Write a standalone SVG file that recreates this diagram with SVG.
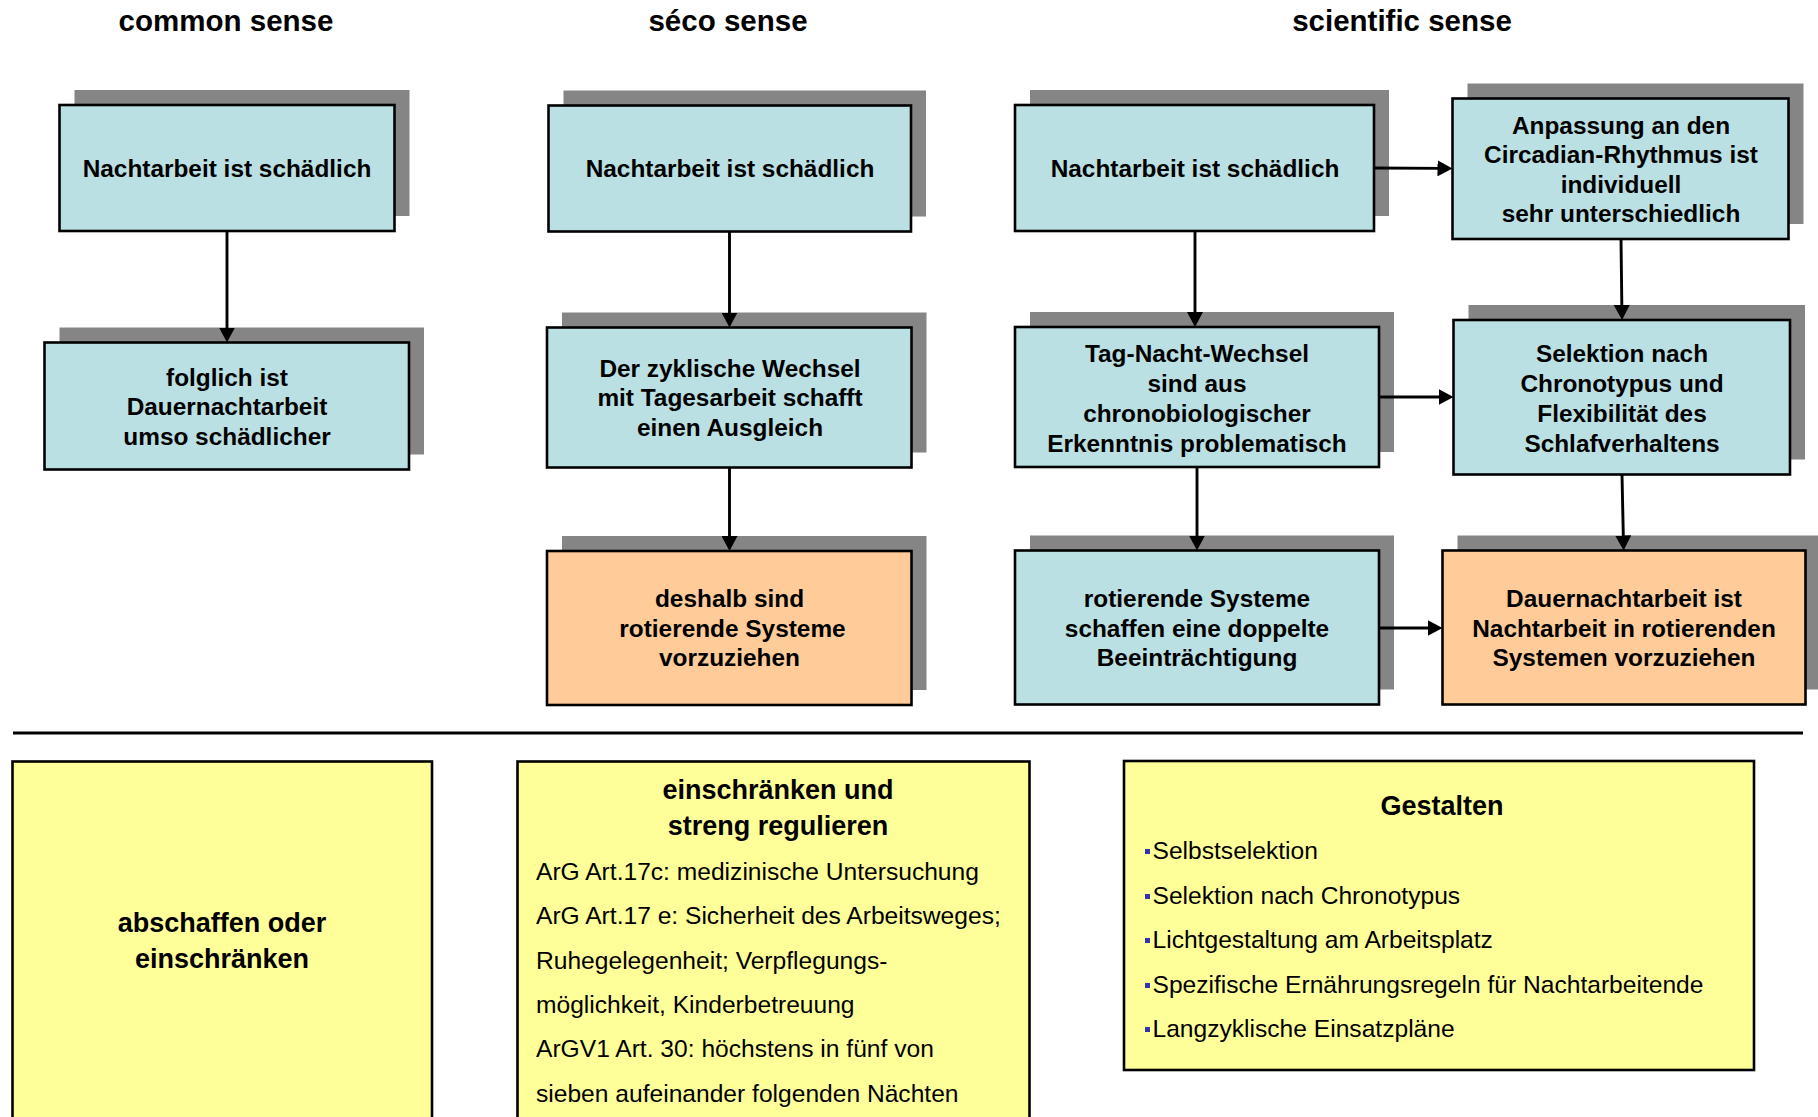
<svg xmlns="http://www.w3.org/2000/svg" width="1818" height="1117" viewBox="0 0 1818 1117">
<defs>
<marker id="arr" viewBox="0 0 15 16" refX="5" refY="8" markerWidth="15" markerHeight="16" markerUnits="userSpaceOnUse" orient="auto">
<path d="M0,0 L15,8 L0,16 z" fill="#000"/>
</marker>
<style>
.sh{fill:#858585}
.bx{stroke:#000;stroke-width:2.6}
.blue{fill:#BBE0E3}
.orange{fill:#FFCC99}
.yellow{fill:#FFFF99}
text{font-family:"Liberation Sans",Arial,sans-serif;fill:#000}
.t{font-weight:bold;font-size:24.4px;text-anchor:middle}
.ttl{font-weight:bold;font-size:29.5px;text-anchor:middle}
.h{font-weight:bold;font-size:27px;text-anchor:middle}
.b{font-size:24.6px}
.con line{stroke:#000;stroke-width:2.9;marker-end:url(#arr)}
.bul{fill:#3333AA}
</style>
</defs>
<rect width="1818" height="1117" fill="#fff"/>

<g id="titles">
<text class="ttl" x="226" y="30.5">common sense</text>
<text class="ttl" x="728" y="30.5">séco sense</text>
<text class="ttl" x="1402" y="30.5">scientific sense</text>
</g>

<g id="A1">
<rect class="sh" x="74.5" y="90" width="335" height="126"/>
<rect class="bx blue" x="59.5" y="105" width="335" height="126"/>
<text class="t" x="227" y="177">Nachtarbeit ist schädlich</text>
</g>
<g id="A2">
<rect class="sh" x="59.5" y="327.5" width="364.5" height="127"/>
<rect class="bx blue" x="44.5" y="342.5" width="364.5" height="127"/>
<text class="t" x="227" y="386">folglich ist</text>
<text class="t" x="227" y="415">Dauernachtarbeit</text>
<text class="t" x="227" y="445">umso schädlicher</text>
</g>

<g id="B1">
<rect class="sh" x="563.5" y="90.5" width="362.5" height="126"/>
<rect class="bx blue" x="548.5" y="105.5" width="362.5" height="126"/>
<text class="t" x="730" y="177">Nachtarbeit ist schädlich</text>
</g>
<g id="B2">
<rect class="sh" x="562" y="312.5" width="364.5" height="140"/>
<rect class="bx blue" x="547" y="327.5" width="364.5" height="140"/>
<text class="t" x="730" y="376.5">Der zyklische Wechsel</text>
<text class="t" x="730" y="406">mit Tagesarbeit schafft</text>
<text class="t" x="730" y="436">einen Ausgleich</text>
</g>
<g id="B3">
<rect class="sh" x="562" y="536" width="364.5" height="154"/>
<rect class="bx orange" x="547" y="551" width="364.5" height="154"/>
<text class="t" x="729.5" y="607">deshalb sind</text>
<text class="t" x="732.5" y="636.5">rotierende Systeme</text>
<text class="t" x="729.5" y="666">vorzuziehen</text>
</g>

<g id="C1">
<rect class="sh" x="1030" y="90" width="359" height="126"/>
<rect class="bx blue" x="1015" y="105" width="359" height="126"/>
<text class="t" x="1195" y="177">Nachtarbeit ist schädlich</text>
</g>
<g id="C2">
<rect class="sh" x="1030" y="312" width="364" height="140"/>
<rect class="bx blue" x="1015" y="327" width="364" height="140"/>
<text class="t" x="1197" y="362">Tag-Nacht-Wechsel</text>
<text class="t" x="1197" y="392">sind aus</text>
<text class="t" x="1197" y="421.5">chronobiologischer</text>
<text class="t" x="1197" y="451.5">Erkenntnis problematisch</text>
</g>
<g id="C3">
<rect class="sh" x="1030" y="535.5" width="364" height="154"/>
<rect class="bx blue" x="1015" y="550.5" width="364" height="154"/>
<text class="t" x="1197" y="607">rotierende Systeme</text>
<text class="t" x="1197" y="636.5">schaffen eine doppelte</text>
<text class="t" x="1197" y="666">Beeinträchtigung</text>
</g>

<g id="D1">
<rect class="sh" x="1467.5" y="83.5" width="336" height="140.5"/>
<rect class="bx blue" x="1452.5" y="98.5" width="336" height="140.5"/>
<text class="t" x="1621" y="133.5">Anpassung an den</text>
<text class="t" x="1621" y="163">Circadian-Rhythmus ist</text>
<text class="t" x="1621" y="192.5">individuell</text>
<text class="t" x="1621" y="222">sehr unterschiedlich</text>
</g>
<g id="D2">
<rect class="sh" x="1468.5" y="305" width="336.5" height="154.5"/>
<rect class="bx blue" x="1453.5" y="320" width="336.5" height="154.5"/>
<text class="t" x="1622" y="362">Selektion nach</text>
<text class="t" x="1622" y="392">Chronotypus und</text>
<text class="t" x="1622" y="421.5">Flexibilität des</text>
<text class="t" x="1622" y="451.5">Schlafverhaltens</text>
</g>
<g id="D3">
<rect class="sh" x="1457.5" y="535.5" width="363" height="154"/>
<rect class="bx orange" x="1442.5" y="550.5" width="363" height="154"/>
<text class="t" x="1624" y="607">Dauernachtarbeit ist</text>
<text class="t" x="1624" y="636.5">Nachtarbeit in rotierenden</text>
<text class="t" x="1624" y="666">Systemen vorzuziehen</text>
</g>

<g id="connectors" class="con">
<line x1="227" y1="231" x2="227" y2="332.5"/>
<line x1="729.5" y1="231.5" x2="729.5" y2="317.5"/>
<line x1="729.5" y1="467.5" x2="729.5" y2="541"/>
<line x1="1374" y1="168" x2="1442.5" y2="168.4"/>
<line x1="1195" y1="231" x2="1195" y2="317"/>
<line x1="1621" y1="239" x2="1621.9" y2="310"/>
<line x1="1379" y1="397" x2="1443.5" y2="397"/>
<line x1="1197" y1="467" x2="1197" y2="540.5"/>
<line x1="1622" y1="474.5" x2="1623.4" y2="540.5"/>
<line x1="1379" y1="628" x2="1432.5" y2="628"/>
</g>

<line id="separator" x1="13" y1="733" x2="1803" y2="733" stroke="#000" stroke-width="3"/>

<g id="E1">
<rect class="bx yellow" x="12.5" y="761.5" width="419.5" height="400"/>
<text class="h" x="222" y="932">abschaffen oder</text>
<text class="h" x="222" y="968">einschränken</text>
</g>
<g id="E2">
<rect class="bx yellow" x="517.5" y="761.5" width="512" height="400"/>
<text class="h" x="778" y="799">einschränken und</text>
<text class="h" x="778" y="835">streng regulieren</text>
<text class="b" x="536" y="879.5">ArG Art.17c: medizinische Untersuchung</text>
<text class="b" x="536" y="924">ArG Art.17 e: Sicherheit des Arbeitsweges;</text>
<text class="b" x="536" y="968.5">Ruhegelegenheit; Verpflegungs-</text>
<text class="b" x="536" y="1012.5">möglichkeit, Kinderbetreuung</text>
<text class="b" x="536" y="1057">ArGV1 Art. 30: höchstens in fünf von</text>
<text class="b" x="536" y="1101.5">sieben aufeinander folgenden Nächten</text>
</g>
<g id="E3">
<rect class="bx yellow" x="1124" y="761" width="630" height="309"/>
<text class="h" x="1442" y="815">Gestalten</text>
<rect class="bul" x="1145" y="849" width="5" height="5"/>
<text class="b" x="1152.5" y="858.5">Selbstselektion</text>
<rect class="bul" x="1145" y="894" width="5" height="5"/>
<text class="b" x="1152.5" y="903.5">Selektion nach Chronotypus</text>
<rect class="bul" x="1145" y="938" width="5" height="5"/>
<text class="b" x="1152.5" y="947.5">Lichtgestaltung am Arbeitsplatz</text>
<rect class="bul" x="1145" y="983" width="5" height="5"/>
<text class="b" x="1152.5" y="992.5">Spezifische Ernährungsregeln für Nachtarbeitende</text>
<rect class="bul" x="1145" y="1027" width="5" height="5"/>
<text class="b" x="1152.5" y="1036.5">Langzyklische Einsatzpläne</text>
</g>
</svg>
